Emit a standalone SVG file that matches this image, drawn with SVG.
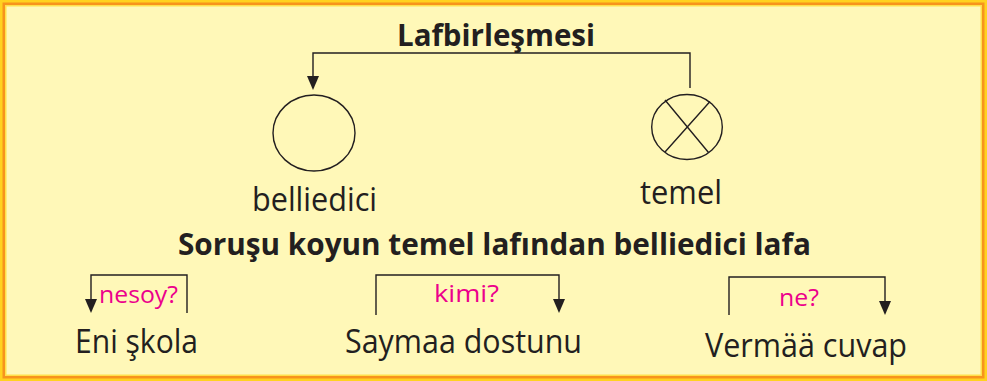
<svg xmlns="http://www.w3.org/2000/svg" width="987" height="381" viewBox="0 0 987 381">
<style>
.t{font-family:"Open Sans","Liberation Sans",sans-serif;fill:#231F20;font-size:33px}
.b{font-weight:bold;font-size:31px}
.q{font-family:"Open Sans","Liberation Sans",sans-serif;fill:#EC008C;font-size:23px}
.ln{fill:none;stroke:#231F20;stroke-width:1.4}
.ah{fill:#231F20}
</style>
<rect x="0" y="0" width="987" height="381" fill="#FFD21F"/>
<rect x="2.5" y="2.5" width="982" height="376" fill="#F7941D"/>
<rect x="5" y="5" width="977" height="371" fill="#FFE04A"/>
<rect x="6.5" y="6.5" width="974" height="368" fill="#FFF8B8"/>

<g id="title"><text class="t b" x="397" y="46" textLength="198" lengthAdjust="spacingAndGlyphs">Lafbirleşmesi</text></g>

<g id="connectors">
<path class="ln" d="M690,88 V53 H313 V76"/>
<path class="ah" d="M307,76 L319,76 L313,90 Z"/>
<path class="ln" d="M187,313 V275 H91 V299"/>
<path class="ah" d="M85,299 L97,299 L91,313 Z"/>
<path class="ln" d="M376,315 V275 H559 V299"/>
<path class="ah" d="M553,299 L565,299 L559,313 Z"/>
<path class="ln" d="M729,315 V277 H885 V301"/>
<path class="ah" d="M879,301 L891,301 L885,315 Z"/>
</g>

<g id="belliedici">
<ellipse class="ln" cx="314" cy="133" rx="41" ry="38"/>
<text class="t" x="252" y="211" textLength="125" lengthAdjust="spacingAndGlyphs">belliedici</text>
</g>
<g id="temel">
<ellipse class="ln" cx="687" cy="127" rx="35.3" ry="32.5"/>
<path class="ln" d="M665,100 L708.5,152.5 M710,101.5 L665,152"/>
<text class="t" x="640" y="204" textLength="82" lengthAdjust="spacingAndGlyphs">temel</text>
</g>

<g id="subtitle"><text class="t b" x="178" y="255" textLength="633" lengthAdjust="spacingAndGlyphs">Soruşu koyun temel lafından belliedici lafa</text></g>

<g id="eni">
<text class="q" x="99" y="303" textLength="79" lengthAdjust="spacingAndGlyphs">nesoy?</text>
<text class="t" x="75" y="353" textLength="123" lengthAdjust="spacingAndGlyphs">Eni şkola</text>
</g>
<g id="saymaa">
<text class="q" x="434" y="302" textLength="65" lengthAdjust="spacingAndGlyphs">kimi?</text>
<text class="t" x="345" y="353" textLength="237" lengthAdjust="spacingAndGlyphs">Saymaa dostunu</text>
</g>
<g id="vermaa">
<text class="q" x="779" y="305.5" textLength="40" lengthAdjust="spacingAndGlyphs">ne?</text>
<text class="t" x="705" y="356.5" textLength="202" lengthAdjust="spacingAndGlyphs">Vermää cuvap</text>
</g>
</svg>
